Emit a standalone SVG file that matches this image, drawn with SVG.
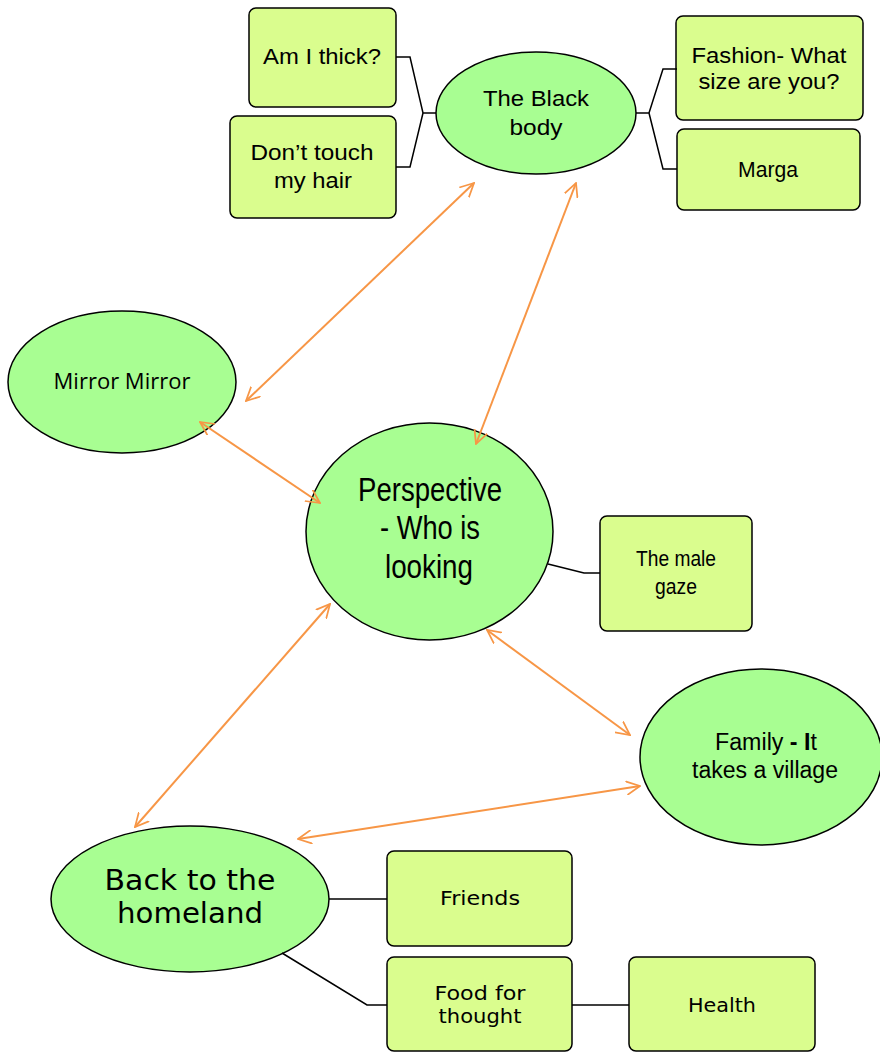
<svg xmlns="http://www.w3.org/2000/svg" width="880" height="1052" viewBox="0 0 880 1052">
<style>
.ell{fill:#a8fe92;stroke:#000;stroke-width:1.5}
.box{fill:#dafd8e;stroke:#000;stroke-width:1.5}
.ln{fill:none;stroke:#000;stroke-width:1.5}
.arr{fill:none;stroke:#f79646;stroke-width:2;marker-start:url(#ah);marker-end:url(#ah)}
text{font-family:"Liberation Sans",Arial,sans-serif;fill:#000;text-anchor:middle}
.wide{font-family:"DejaVu Sans","Liberation Sans",sans-serif}
.mm{font-family:"Open Sans","Noto Sans",sans-serif}
</style>
<defs>
<marker id="ah" viewBox="0 0 12 12" refX="11" refY="6" markerWidth="15" markerHeight="15" markerUnits="userSpaceOnUse" orient="auto-start-reverse">
<path d="M0,0.5 L11,6 L0,11.5" fill="none" stroke="#f79646" stroke-width="1.4"/>
</marker>
</defs>
<rect width="880" height="1052" fill="#fff"/>
<g id="am-i-thick">
<rect class="box" x="249" y="8" width="147" height="99" rx="7"/>
<text x="322" y="64" font-size="22" textLength="118" lengthAdjust="spacingAndGlyphs">Am I thick?</text>
</g>
<g id="dont-touch">
<rect class="box" x="230" y="116" width="166" height="102" rx="7"/>
<text x="312" y="160" font-size="22" textLength="123" lengthAdjust="spacingAndGlyphs">Don’t touch</text>
<text x="313" y="188" font-size="22" textLength="78" lengthAdjust="spacingAndGlyphs">my hair</text>
</g>
<g id="black-body">
<ellipse class="ell" cx="536" cy="113" rx="100" ry="61"/>
<text x="536" y="106" font-size="22" textLength="106" lengthAdjust="spacingAndGlyphs">The Black</text>
<text x="536" y="135" font-size="22" textLength="53" lengthAdjust="spacingAndGlyphs">body</text>
</g>
<g id="fashion">
<rect class="box" x="676" y="16" width="187" height="104" rx="7"/>
<text x="769" y="63" font-size="22" textLength="155" lengthAdjust="spacingAndGlyphs">Fashion- What</text>
<text x="769" y="89" font-size="22" textLength="141" lengthAdjust="spacingAndGlyphs">size are you?</text>
</g>
<g id="marga">
<rect class="box" x="677" y="129" width="183" height="81" rx="7"/>
<text x="768" y="177" font-size="22" textLength="60" lengthAdjust="spacingAndGlyphs">Marga</text>
</g>
<g id="mirror">
<ellipse class="ell" cx="122" cy="382" rx="114" ry="71"/>
<text class="mm" x="122" y="389" font-size="22" textLength="137" lengthAdjust="spacingAndGlyphs">Mirror Mirror</text>
</g>
<g id="perspective">
<ellipse class="ell" cx="429.5" cy="531.5" rx="123.5" ry="108.5"/>
<text x="430" y="501" font-size="33" textLength="144" lengthAdjust="spacingAndGlyphs">Perspective</text>
<text x="430" y="539" font-size="33" textLength="100" lengthAdjust="spacingAndGlyphs">- Who is</text>
<text x="429" y="578" font-size="33" textLength="88" lengthAdjust="spacingAndGlyphs">looking</text>
</g>
<g id="male-gaze">
<rect class="box" x="600" y="516" width="152" height="115" rx="7"/>
<text x="676" y="566" font-size="22" textLength="80" lengthAdjust="spacingAndGlyphs">The male</text>
<text x="676" y="594" font-size="22" textLength="42" lengthAdjust="spacingAndGlyphs">gaze</text>
</g>
<g id="family">
<ellipse class="ell" cx="761" cy="757" rx="121" ry="88"/>
<text x="766" y="750" font-size="23" textLength="102" lengthAdjust="spacingAndGlyphs">Family <tspan font-weight="bold">- I</tspan>t</text>
<text x="765" y="778" font-size="23" textLength="146" lengthAdjust="spacingAndGlyphs">takes a village</text>
</g>
<g id="homeland">
<ellipse class="ell" cx="190" cy="899" rx="139" ry="73"/>
<text class="wide" x="190" y="890" font-size="28" textLength="171" lengthAdjust="spacingAndGlyphs">Back to the</text>
<text class="wide" x="190" y="923" font-size="28" textLength="146" lengthAdjust="spacingAndGlyphs">homeland</text>
</g>
<g id="friends">
<rect class="box" x="387" y="851" width="185" height="95" rx="7"/>
<text class="wide" x="480" y="905" font-size="19" textLength="80" lengthAdjust="spacingAndGlyphs">Friends</text>
</g>
<g id="food">
<rect class="box" x="387" y="957" width="185" height="94" rx="7"/>
<text class="wide" x="480" y="1000" font-size="19" textLength="91" lengthAdjust="spacingAndGlyphs">Food for</text>
<text class="wide" x="480" y="1023" font-size="19" textLength="83" lengthAdjust="spacingAndGlyphs">thought</text>
</g>
<g id="health">
<rect class="box" x="629" y="957" width="186" height="94" rx="7"/>
<text class="wide" x="722" y="1012" font-size="19" textLength="68" lengthAdjust="spacingAndGlyphs">Health</text>
</g>
<g id="connectors">
<path class="ln" d="M436,113 H423 L410,57 H396 M423,113 L410,167 H396"/>
<path class="ln" d="M636,113 H649 L663,69 H677 M649,113 L663,169 H677"/>
<path class="ln" d="M548,564 L584,573 H600"/>
<path class="ln" d="M329,899 H387"/>
<path class="ln" d="M282,953 L367,1005 H387"/>
<path class="ln" d="M572,1005 H629"/>
<line class="arr" x1="246" y1="401" x2="474" y2="183"/>
<line class="arr" x1="476" y1="444" x2="576" y2="183"/>
<line class="arr" x1="200" y1="422" x2="320" y2="503"/>
<line class="arr" x1="330" y1="604" x2="135" y2="827"/>
<line class="arr" x1="487" y1="630" x2="630" y2="735"/>
<line class="arr" x1="298" y1="839" x2="640" y2="786"/>
</g>
</svg>
